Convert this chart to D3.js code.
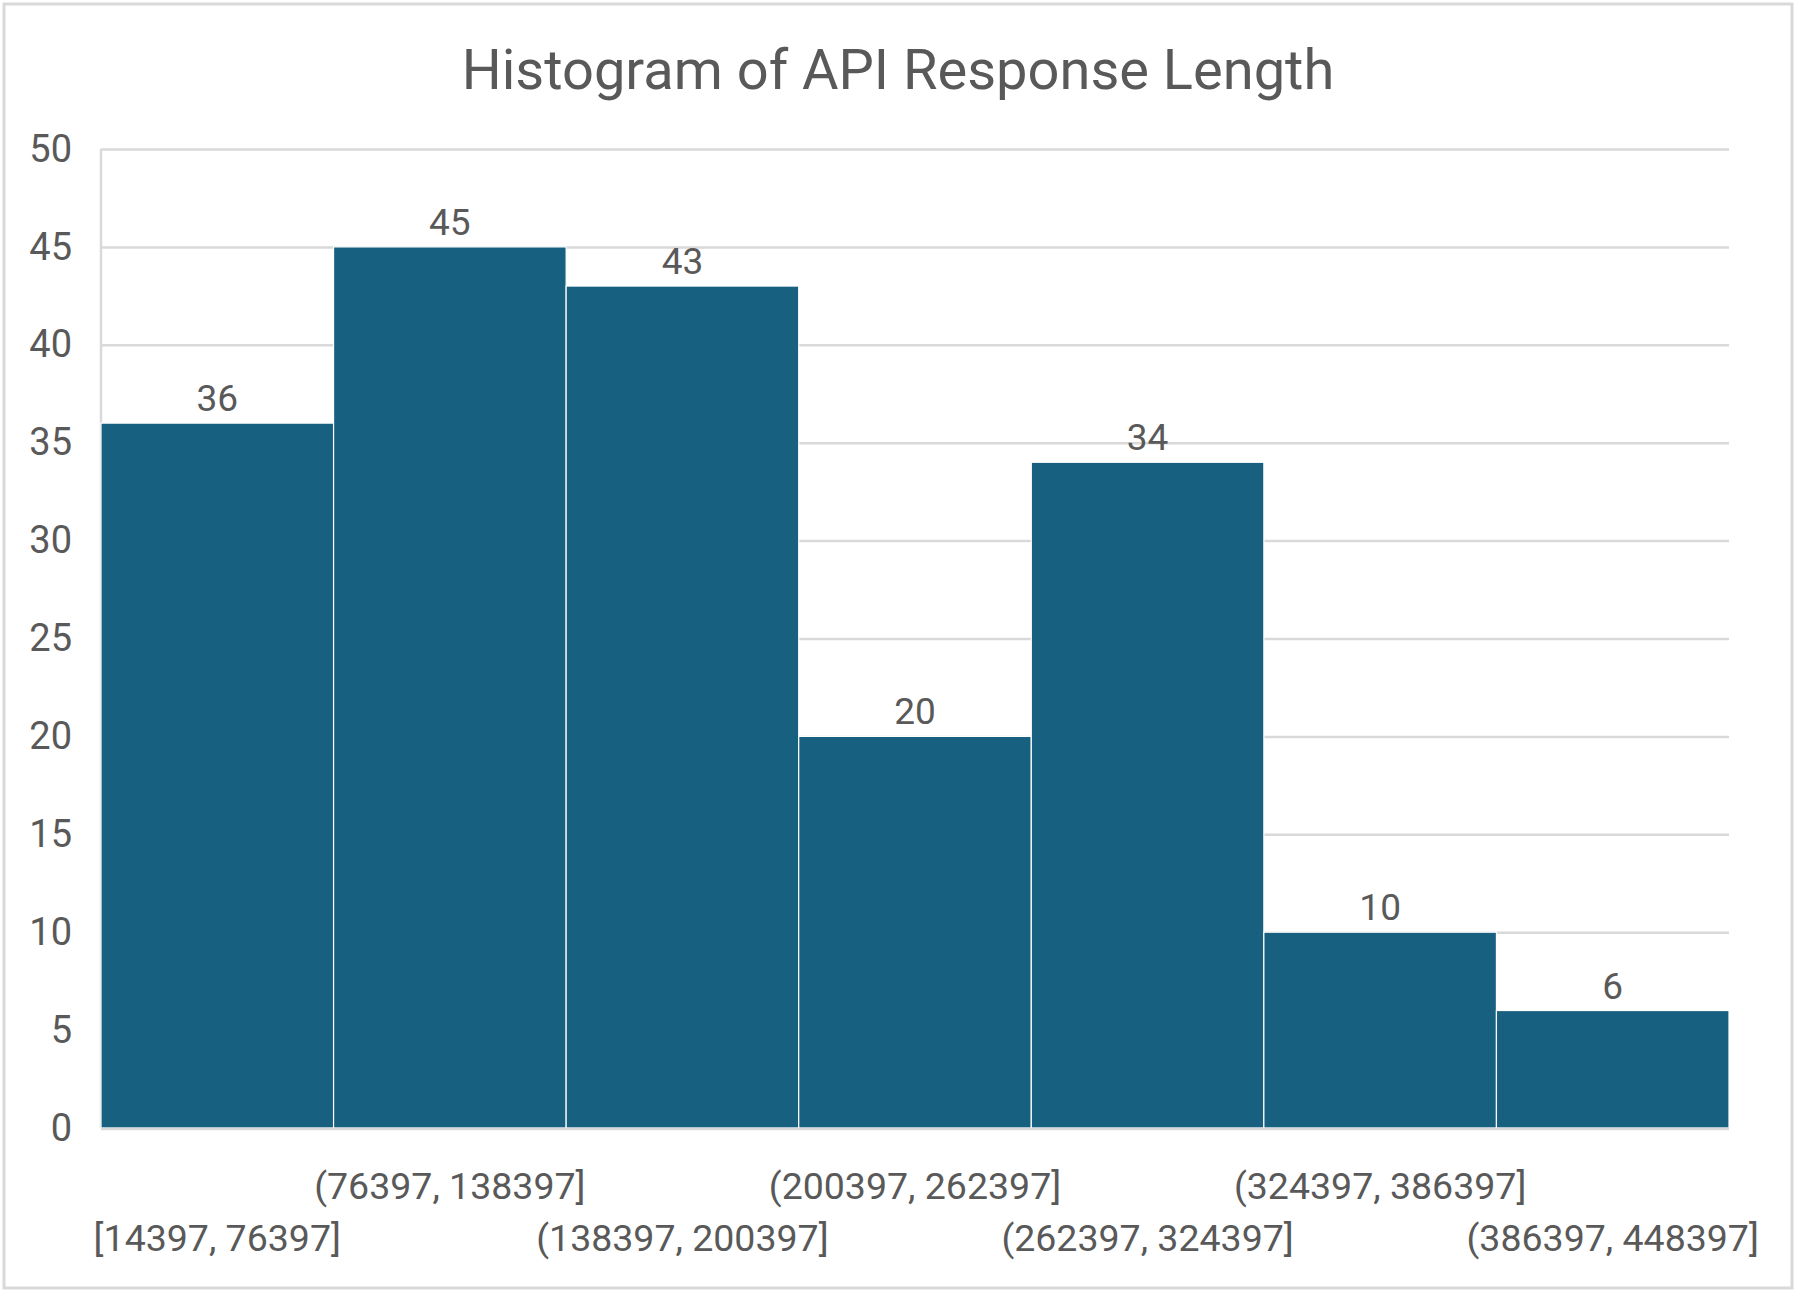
<!DOCTYPE html>
<html><head><meta charset="utf-8">
<script src="https://cdn.jsdelivr.net/npm/d3@7"></script>
<style>
html,body{margin:0;padding:0;background:#fff;}
svg text{font-family:Roboto,"Liberation Sans",sans-serif;fill:#595959;}
</style></head>
<body>
<svg id="chart" width="1796" height="1292"></svg>
<script>
const title = "Histogram of API Response Length";
const bins = ["[14397, 76397]","(76397, 138397]","(138397, 200397]","(200397, 262397]","(262397, 324397]","(324397, 386397]","(386397, 448397]"];
const counts = [36,45,43,20,34,10,6];
const yTicks = [0,5,10,15,20,25,30,35,40,45,50];

const W=1796,H=1292;
const m={left:101,right:1729,top:149,bottom:1128};
const svg=d3.select("#chart");
svg.append("rect").attr("x",4).attr("y",4).attr("width",W-8).attr("height",H-8)
  .attr("fill","#fff").attr("stroke","#d9d9d9").attr("stroke-width",3);

svg.append("text").attr("x",W/2).attr("y",89).attr("text-anchor","middle")
  .style("font-size","56px").text(title);

const x=d3.scaleBand().domain(bins).range([m.left,m.right]).padding(0);
const y=d3.scaleLinear().domain([0,50]).range([m.bottom,m.top]);

// gridlines + y labels
const ya=svg.append("g").attr("transform",`translate(${m.left},0)`)
  .call(d3.axisLeft(y).tickValues(yTicks).tickSize(-(m.right-m.left)).tickPadding(29));
ya.select(".domain").remove();
ya.selectAll(".tick line").attr("stroke","#d9d9d9").attr("stroke-width",2.5);
ya.selectAll(".tick text").style("font-size","38px").attr("fill","#595959").attr("font-family",null);
// vertical axis line
svg.append("line").attr("x1",m.left).attr("x2",m.left).attr("y1",m.top).attr("y2",m.bottom)
  .attr("stroke","#d9d9d9").attr("stroke-width",2.5);

// bars
svg.append("g").selectAll("rect").data(counts).join("rect")
  .attr("x",(d,i)=>x(bins[i])).attr("y",d=>y(d))
  .attr("width",x.bandwidth()).attr("height",d=>y(0)-y(d))
  .attr("fill","#17607f").attr("stroke","#ffffff").attr("stroke-width",1.2);

// baseline
svg.append("line").attr("x1",m.left).attr("x2",m.right).attr("y1",m.bottom+1).attr("y2",m.bottom+1)
  .attr("stroke","#d9d9d9").attr("stroke-width",2.5);

// data labels
svg.append("g").selectAll("text").data(counts).join("text")
  .attr("x",(d,i)=>x(bins[i])+x.bandwidth()/2).attr("y",d=>y(d)-12)
  .attr("text-anchor","middle").style("font-size","37px").text(d=>d);

// x labels staggered
svg.append("g").selectAll("text").data(bins).join("text")
  .attr("x",d=>x(d)+x.bandwidth()/2)
  .attr("y",(d,i)=> i%2===1 ? 1199 : 1251)
  .attr("text-anchor","middle").style("font-size","37.5px").text(d=>d);
</script>
</body></html>
